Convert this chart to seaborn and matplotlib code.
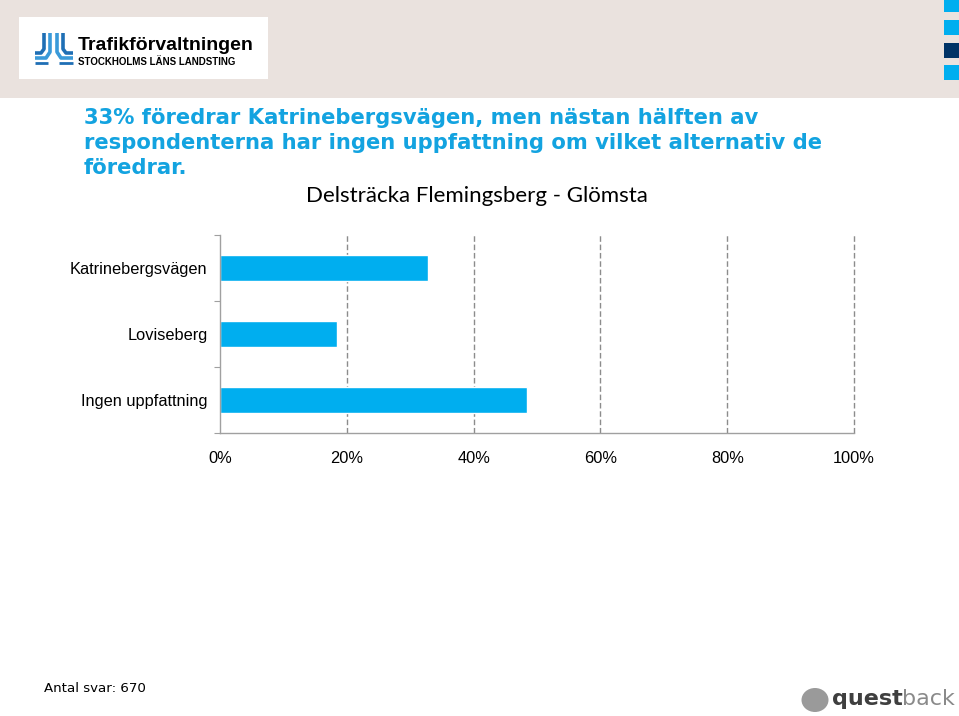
import matplotlib
matplotlib.use("Agg")
import matplotlib.pyplot as plt
import seaborn as sns
import pandas as pd
from matplotlib.patches import Rectangle, Ellipse
from matplotlib.lines import Line2D
from matplotlib.ticker import FixedLocator

categories = ["Katrinebergsvägen", "Loviseberg", "Ingen uppfattning"]
values = [32.8, 18.4, 48.5]
xticks = [0, 20, 40, 60, 80, 100]
xticklabels = ["0%", "20%", "40%", "60%", "80%", "100%"]

title_lines = ["33% föredrar Katrinebergsvägen, men nästan hälften av",
               "respondenterna har ingen uppfattning om vilket alternativ de",
               "föredrar."]
subtitle = "Delsträcka Flemingsberg - Glömsta"
footnote = "Antal svar: 670"

sns.set_theme(style="white")
plt.rcParams['font.family'] = ['Liberation Sans', 'DejaVu Sans']

W, H = 959, 716
fig = plt.figure(figsize=(W / 100, H / 100), dpi=100)
fig.patch.set_facecolor("white")

def fx(px):
    return px / W

def fy(py):
    return 1 - py / H

# header band
fig.patches.append(Rectangle((0, fy(98)), 1, 98 / H, transform=fig.transFigure,
                             facecolor="#EAE2DE", edgecolor="none", zorder=0))
# logo box
fig.patches.append(Rectangle((fx(19), fy(79)), fx(268) - fx(19), (79 - 17) / H,
                             transform=fig.transFigure, facecolor="white",
                             edgecolor="none", zorder=1))
# right squares
sq = [(0, 12, "#00AEEF"), (20, 35, "#00AEEF"), (43, 58, "#003366"), (65, 80, "#00AEEF")]
for y0, y1, c in sq:
    fig.patches.append(Rectangle((fx(944), fy(y1)), fx(959) - fx(944), (y1 - y0) / H,
                                 transform=fig.transFigure, facecolor=c,
                                 edgecolor="none", zorder=1))

# JL logo strokes
def stroke(xs, ys, c, lw=2.6):
    fig.lines.append(Line2D([fx(x) for x in xs], [fy(y) for y in ys],
                            transform=fig.transFigure, color=c, lw=lw,
                            solid_capstyle="butt", zorder=2))

stroke([44, 44, 41, 35], [33, 49, 53, 53], "#1F6FB5")
stroke([50, 50, 46, 35], [33, 52, 58, 58], "#3A9AD9")
stroke([57, 57, 61, 73], [33, 52, 58, 58], "#3A9AD9")
stroke([63, 63, 66, 73], [33, 49, 53, 53], "#1F6FB5")
stroke([35, 48], [63, 63], "#1F6FB5", 2.0)
stroke([59, 73], [63, 63], "#1F6FB5", 2.0)

fig.text(fx(78), fy(46), "Trafikförvaltningen", fontsize=14, fontweight="bold",
         family=['Liberation Sans Narrow', 'Liberation Sans', 'DejaVu Sans'],
         color="black", va="center", ha="left", zorder=3)
fig.text(fx(78), fy(62), "STOCKHOLMS LÄNS LANDSTING", fontsize=7,
         family=['Liberation Sans Narrow', 'Liberation Sans', 'DejaVu Sans'],
         color="black", va="center", ha="left", zorder=3, fontweight="bold")

# title
for i, line in enumerate(title_lines):
    fig.text(fx(84), fy(118 + 25 * i), line, fontsize=15.2, fontweight="bold",
             family=['DejaVu Sans'], color="#13A3E0", va="center", ha="left")

fig.text(fx(477), fy(196), subtitle, fontsize=16, family=['Lato', 'DejaVu Sans'],
         color="black", va="center", ha="center")

# chart
ax = fig.add_axes([fx(220), fy(433), fx(854) - fx(220), (433 - 235) / H])
df = pd.DataFrame({"cat": categories, "val": values})
sns.barplot(data=df, x="val", y="cat", orient="h", color="#00AEEF",
            saturation=1, width=0.38, ax=ax)
ax.set_xlim(0, 100)
ax.set_ylim(2.5, -0.5)
ax.set_xlabel("")
ax.set_ylabel("")
ax.set_xticks(xticks)
ax.set_xticklabels(xticklabels, fontsize=11.8, color="black")
ax.tick_params(axis="x", length=0, pad=13)
ax.tick_params(axis="y", which="major", length=0, pad=9, labelsize=11.8,
               labelcolor="black")
ax.yaxis.set_minor_locator(FixedLocator([-0.5, 0.5, 1.5, 2.5]))
ax.tick_params(axis="y", which="minor", length=4, width=0.8, color="#A0A0A0",
               direction="out", left=True)
for x in xticks[1:]:
    ax.axvline(x, color="#8C8C8C", lw=1.0, ls=(0, (4, 2)), zorder=0, clip_on=False)
for s in ["top", "right"]:
    ax.spines[s].set_visible(False)
for s in ["left", "bottom"]:
    ax.spines[s].set_color("#A0A0A0")
    ax.spines[s].set_linewidth(1.0)
ax.set_facecolor("white")

fig.text(fx(44), fy(688), footnote, fontsize=9.6, family=['DejaVu Sans'],
         color="black", va="center", ha="left")

# questback logo
fig.patches.append(Ellipse((fx(815), fy(700)), 27 / W, 24 / H, transform=fig.transFigure,
                           facecolor="#9A9A9A", edgecolor="none"))
fig.text(fx(832), fy(699), "quest", fontsize=16, fontweight="bold",
         family=['DejaVu Sans'], color="#3F3F3F", va="center", ha="left")
fig.text(fx(955), fy(699), "back", fontsize=16, family=['DejaVu Sans'],
         color="#8A8A8A", va="center", ha="right")

fig.savefig("out.png", dpi=100, facecolor="white")
